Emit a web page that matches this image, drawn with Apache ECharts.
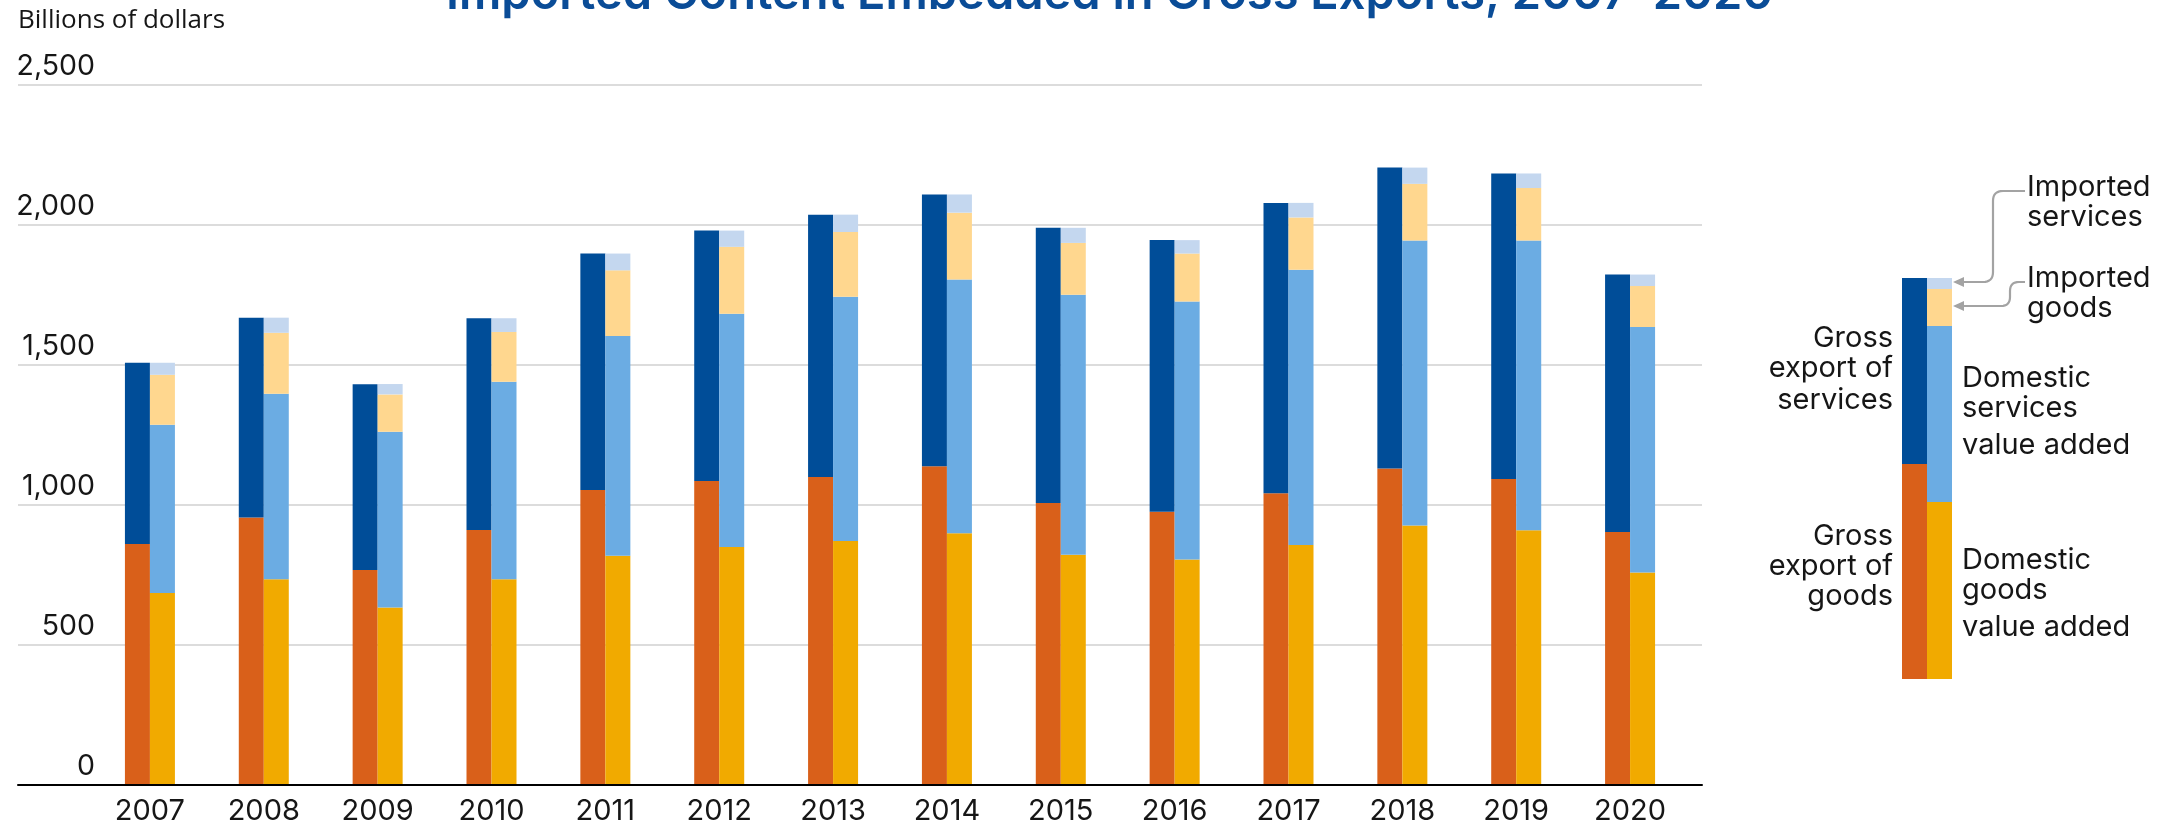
<!DOCTYPE html>
<html>
<head>
<meta charset="utf-8">
<script src="https://cdn.jsdelivr.net/npm/echarts@6/dist/echarts.min.js"></script>
<style>html,body{margin:0;padding:0;background:#fff}#c{width:2173px;height:826px}</style>
</head>
<body>
<div id="c"></div>
<script>
// ---- data (billions of dollars) ----
const years = ['2007','2008','2009','2010','2011','2012','2013','2014','2015','2016','2017','2018','2019','2020'];
const grossGoods    = [861, 955, 768, 911, 1054, 1086, 1100, 1138, 1007, 976, 1042, 1130, 1093, 904];
const grossServices = [647, 714, 663, 756, 844, 894, 937, 971, 983, 970, 1037, 1075, 1091, 919];
const domGoodsVA    = [686, 735, 634, 735, 819, 850, 871, 899, 822, 805, 857, 927, 910, 759];
const domServVA     = [601, 662, 628, 705, 785, 833, 873, 906, 929, 922, 983, 1018, 1035, 877];
const impGoods      = [178, 218, 133, 178, 234, 239, 231, 239, 185, 171, 187, 202, 187, 146];
const impServices   = [43, 54, 37, 49, 60, 58, 62, 65, 54, 48, 52, 58, 52, 41];
const yTicks = [0, 500, 1000, 1500, 2000, 2500];
// illustrative key bar (legend diagram) segment sizes
const keyCategory = ['key'];
const keyGrossGoods = [215], keyGrossServices = [186];
const keyDomGoods = [177], keyDomServ = [176], keyImpGoods = [37], keyImpServ = [11];

const C = {
  orange: '#D9601A', gold: '#F1AA00', navy: '#004D98',
  sky: '#6BACE3', peach: '#FFD78F', pale: '#C4D7EF'
};
const FONT = 'Inter, "Noto Sans", sans-serif';
const TXT = '#161616';

function bar(name, data, stack, color, xi, yi) {
  return { name, type: 'bar', data, stack, xAxisIndex: xi, yAxisIndex: yi,
    barWidth: 25, barGap: '0%', itemStyle: { color }, emphasis: { disabled: true },
    animation: false };
}

function txt(x, y, text, align) {
  return { type: 'text', x, y, silent: true,
    style: { text, font: '400 29px ' + FONT, fill: TXT,
      textAlign: align || 'left', align: align || 'left',
      textVerticalAlign: 'middle', verticalAlign: 'middle' } };
}

// connector line with rounded corners: segments [pt, [ctrl, end], ...]
function rounded(start, segs) {
  const pts = [start];
  let cur = start;
  segs.forEach(s => {
    if (typeof s[0] === 'number') { pts.push(s); cur = s; }
    else {
      const [c, e] = [s[0], s[1]];
      for (let i = 1; i <= 8; i++) {
        const t = i / 8;
        pts.push([(1-t)*(1-t)*cur[0] + 2*(1-t)*t*c[0] + t*t*e[0],
                  (1-t)*(1-t)*cur[1] + 2*(1-t)*t*c[1] + t*t*e[1]]);
      }
      cur = e;
    }
  });
  return { type: 'polyline', silent: true, shape: { points: pts },
    style: { stroke: '#A3A3A3', lineWidth: 2.2, fill: null } };
}

const graphics = [
  { type: 'text', x: 446, y: -5, silent: true,
    style: { text: 'Imported Content Embedded in Gross Exports, 2007–2020',
      font: '600 47px ' + FONT, fill: '#0A4C97',
      textAlign: 'left', align: 'left', textVerticalAlign: 'middle', verticalAlign: 'middle' } },
  { type: 'text', x: 18, y: 21, silent: true,
    style: { text: 'Billions of dollars', font: '400 26px "Open Sans", sans-serif', fill: TXT,
      textAlign: 'left', align: 'left', textVerticalAlign: 'middle', verticalAlign: 'middle' } },
  // key labels
  txt(2027, 187, 'Imported'), txt(2027, 217, 'services'),
  txt(2027, 278, 'Imported'), txt(2027, 308, 'goods'),
  txt(1962, 378, 'Domestic'), txt(1962, 408, 'services'), txt(1962, 445, 'value added'),
  txt(1962, 560, 'Domestic'), txt(1962, 590, 'goods'), txt(1962, 627, 'value added'),
  txt(1893, 338, 'Gross', 'right'), txt(1893, 368, 'export of', 'right'), txt(1893, 400, 'services', 'right'),
  txt(1893, 536, 'Gross', 'right'), txt(1893, 566, 'export of', 'right'), txt(1893, 596, 'goods', 'right'),
  // arrows
  rounded([2025, 191], [[2003, 191], [[1993, 191], [1993, 201]], [1993, 272], [[1993, 282], [1983, 282]], [1961, 282]]),
  rounded([2025, 282], [[2019, 282], [[2010, 282], [2010, 291]], [2010, 297], [[2010, 306], [2001, 306]], [1961, 306]]),
  { type: 'polygon', silent: true, shape: { points: [[1953, 282], [1964, 277], [1964, 287]] },
    style: { fill: '#A3A3A3' } },
  { type: 'polygon', silent: true, shape: { points: [[1953, 306], [1964, 301], [1964, 311]] },
    style: { fill: '#A3A3A3' } }
];

const option = {
  animation: false,
  backgroundColor: '#ffffff',
  grid: [
    { left: 93, right: 486, top: 85, bottom: 41 },   // bars
    { left: 18, right: 471, top: 85, bottom: 41 },   // gridlines / axis
    { left: 1877, right: 196, top: 278, bottom: 147 } // key diagram
  ],
  xAxis: [
    { type: 'category', gridIndex: 0, data: years,
      axisLine: { show: false }, axisTick: { show: false }, splitLine: { show: false },
      axisLabel: { fontFamily: FONT, fontSize: 29, color: TXT, margin: 12 } },
    { type: 'value', gridIndex: 1, min: 0, max: 1, z: 5,
      axisLine: { show: true, lineStyle: { color: '#000', width: 2 } },
      axisTick: { show: false }, axisLabel: { show: false }, splitLine: { show: false } },
    { type: 'category', gridIndex: 2, data: keyCategory, show: false }
  ],
  yAxis: [
    { type: 'value', gridIndex: 0, min: 0, max: 2500, interval: 500, show: false },
    { type: 'value', gridIndex: 1, min: 0, max: 2500, interval: 500,
      axisLine: { show: false }, axisTick: { show: false },
      splitLine: { show: true, lineStyle: { color: '#DCDCDC', width: 2 } },
      axisLabel: { inside: true, align: 'right', margin: 77, verticalAlign: 'bottom',
        padding: [0, 0, 4, 0], fontFamily: FONT, fontSize: 28.5, color: TXT,
        formatter: v => yTicks.includes(v) ? v.toLocaleString('en-US') : '' } },
    { type: 'value', gridIndex: 2, min: 0, max: 401, show: false }
  ],
  series: [
    bar('Gross export of goods', grossGoods, 'gross', C.orange, 0, 0),
    bar('Gross export of services', grossServices, 'gross', C.navy, 0, 0),
    bar('Domestic goods value added', domGoodsVA, 'va', C.gold, 0, 0),
    bar('Domestic services value added', domServVA, 'va', C.sky, 0, 0),
    bar('Imported goods', impGoods, 'va', C.peach, 0, 0),
    bar('Imported services', impServices, 'va', C.pale, 0, 0),
    bar('k1', keyGrossGoods, 'kg', C.orange, 2, 2),
    bar('k2', keyGrossServices, 'kg', C.navy, 2, 2),
    bar('k3', keyDomGoods, 'kv', C.gold, 2, 2),
    bar('k4', keyDomServ, 'kv', C.sky, 2, 2),
    bar('k5', keyImpGoods, 'kv', C.peach, 2, 2),
    bar('k6', keyImpServ, 'kv', C.pale, 2, 2)
  ],
  graphic: { elements: graphics }
};

const chart = echarts.init(document.getElementById('c'), null, { renderer: 'canvas' });
chart.setOption(option);
</script>
</body>
</html>
